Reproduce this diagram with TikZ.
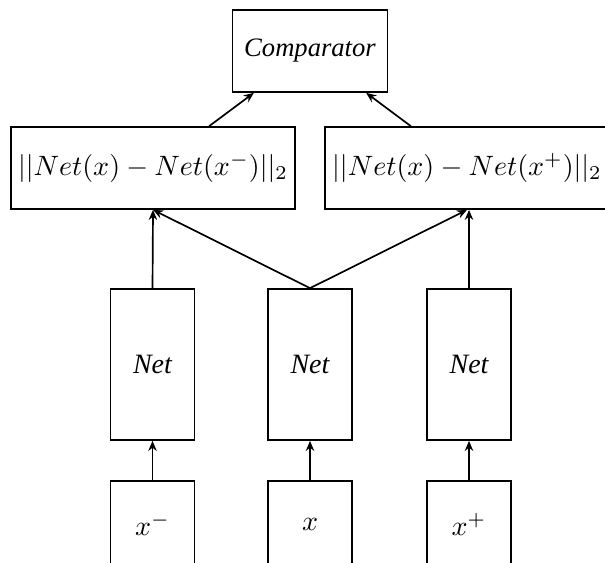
\documentclass[tikz,border=0pt]{standalone}
\usepackage{amsmath}
\usepackage{fontspec}
\newfontfamily\labelfont{Liberation Serif}
\usetikzlibrary{arrows,arrows.meta}
\newcommand{\pxu}{0.357pt}
\tikzset{
  box/.style={draw,semithick,inner sep=0pt,minimum height=82*\pxu},
  cmpbox/.style={box,minimum width=155*\pxu,font=\labelfont\itshape\fontsize{9.5pt}{11pt}\selectfont},
  distbox/.style={box,minimum width=284*\pxu},
  netbox/.style={box,minimum width=84*\pxu,minimum height=151*\pxu,font=\labelfont\itshape},
  inbox/.style={box,minimum width=84*\pxu,minimum height=86*\pxu},
  link/.style={semithick,-{Stealth[length=3.6pt,width=3pt]}}
}

\begin{document}
\begin{tikzpicture}[x=\pxu,y=-\pxu]
\useasboundingbox (0,0) rectangle (605,562);
\clip (0,0) rectangle (605,562);
% boxes
\node[cmpbox] (cmp) at (310,51) {Comparator};
\node[distbox] (dneg) at (153,168) {$||Net(x)-Net(x^{-})||_2$};
\node[distbox] (dpos) at (467,168) {$||Net(x)-Net(x^{+})||_2$};
\node[netbox] (netneg) at (152.5,364.5) {Net};
\node[netbox] (netanc) at (310,364.5) {Net};
\node[netbox] (netpos) at (469,364.5) {Net};
\node[inbox] (xneg) at (152.5,524) {$x^{-}$};
\node[inbox] (xanc) at (310,524) {$x$};
\node[inbox] (xpos) at (469,524) {$x^{+}$};
% arrows
\draw[link] (xneg) -- (netneg);
\draw[link] (xanc) -- (netanc);
\draw[link] (xpos) -- (netpos);
\draw[link] (netneg.north) -- (dneg.south);
\draw[link] (netanc.north) -- (dneg.south);
\draw[link] (netanc.north) -- (dpos.south);
\draw[link] (netpos.north) -- (dpos.south -| netpos.north);
\draw[link] (dneg) -- (cmp);
\draw[link] (dpos) -- (cmp);
\end{tikzpicture}
\end{document}
